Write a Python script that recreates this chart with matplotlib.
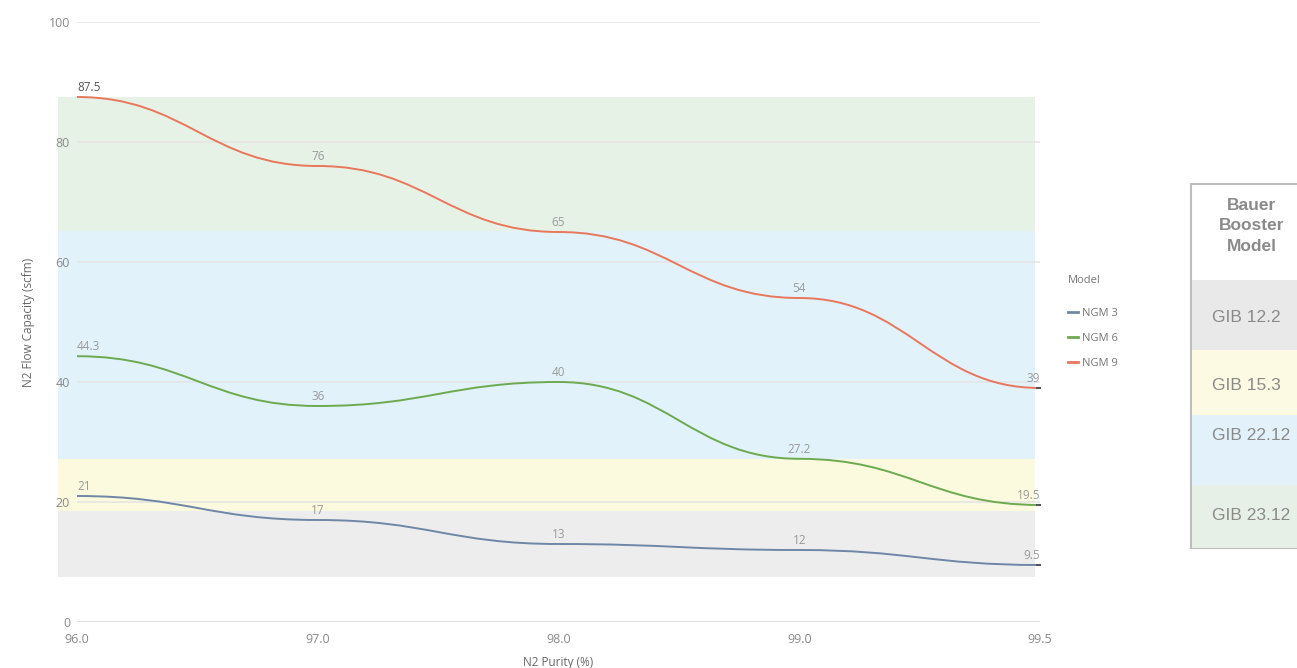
import numpy as np
import matplotlib
matplotlib.use("Agg")
import matplotlib.pyplot as plt
from matplotlib.path import Path
from matplotlib.patches import PathPatch, Rectangle
from matplotlib.lines import Line2D

plt.rcParams['font.family'] = ['Open Sans', 'DejaVu Sans']

# purity levels (categorical x axis)
purity = ['96.0', '97.0', '98.0', '99.0', '99.5']

# flow capacity per generator model (scfm)
ngm3 = [21, 17, 13, 12, 9.5]
ngm6 = [44.3, 36, 40, 27.2, 19.5]
ngm9 = [87.5, 76, 65, 54, 39]
series_names = ['NGM 3', 'NGM 6', 'NGM 9']
series_colors = ['#6f87a6', '#6daa4f', '#e8775c']

# booster model ranges shown as background bands
booster_models = ['GIB 12.2', 'GIB 15.3', 'GIB 22.12', 'GIB 23.12']
band_low = [7.5, 18.5, 27.2, 65.2]
band_high = [18.5, 27.2, 65.2, 87.5]
band_colors = ['#ededed', '#fbf9de', '#e1f2fb', '#e7f2e7']
table_colors = ['#e9e9e9', '#fcfae2', '#e2f1fa', '#e7f0e6']

yticks = [0, 20, 40, 60, 80, 100]

W, H = 1297, 668
fig = plt.figure(figsize=(W / 100, H / 100), dpi=100)
ax = fig.add_axes([77 / W, (H - 622) / H, (1040 - 77) / W, 600 / H])

x = np.arange(len(purity))
ax.set_xlim(0, len(purity) - 1)
ax.set_ylim(0, 100)

# background bands, slightly wider than the plot area on the left
for lo, hi, c in zip(band_low, band_high, band_colors):
    ax.add_patch(Rectangle((-0.079, lo), 3.98 + 0.079, hi - lo, facecolor=c,
                           edgecolor='none', zorder=0, clip_on=False))

for v in yticks:
    ax.axhline(v, color='#d9d9d9' if v == 0 else '#e4e4e4', lw=1.1, zorder=0.5)


def smooth_path(xs, ys):
    # cubic segments with flat tangents at each point
    verts = [(xs[0], ys[0])]
    codes = [Path.MOVETO]
    for i in range(len(xs) - 1):
        dx = xs[i + 1] - xs[i]
        verts += [(xs[i] + dx * 0.45, ys[i]), (xs[i + 1] - dx * 0.45, ys[i + 1]),
                  (xs[i + 1], ys[i + 1])]
        codes += [Path.CURVE4] * 3
    return Path(verts, codes)


for vals, name, col in zip([ngm3, ngm6, ngm9], series_names, series_colors):
    ax.add_patch(PathPatch(smooth_path(x, vals), facecolor='none', edgecolor=col,
                           lw=1.4, zorder=3))
    ax.plot([x[-1] - 0.015, x[-1] + 0.005], [vals[-1], vals[-1]], color='#555555',
            lw=1.5, zorder=4, solid_capstyle='butt', clip_on=False)
    for i, v in enumerate(vals):
        ha = 'left' if i == 0 else ('right' if i == len(vals) - 1 else 'center')
        tc = '#555555' if v == 87.5 else '#9a9a9a'
        ax.annotate(f'{v:g}', (x[i], v), xytext=(0, 2), textcoords='offset points',
                    ha=ha, va='bottom', fontsize=8.5, color=tc, zorder=5)

ax.set_xticks(x)
ax.set_xticklabels(purity)
ax.set_yticks(yticks)
ax.tick_params(length=0, labelsize=9, labelcolor='#8a8a8a')
ax.tick_params(axis='x', pad=8)
ax.tick_params(axis='y', pad=5)
for s in ax.spines.values():
    s.set_visible(False)
ax.set_xlabel('N2 Purity (%)', fontsize=8.5, color='#666666', labelpad=7)
ax.set_ylabel('N2 Flow Capacity (scfm)', fontsize=8.5, color='#666666', labelpad=10)

handles = [Line2D([], [], color=c, lw=2) for c in series_colors]
leg = fig.legend(handles, series_names, title='Model', loc='upper left',
                 bbox_to_anchor=(1058 / W, 1 - 265 / H), frameon=False,
                 fontsize=8, title_fontsize=8, handlelength=0.9,
                 handletextpad=0.4, labelspacing=1.25, alignment='left')
for t in leg.get_texts():
    t.set_color('#777777')
leg.get_title().set_color('#777777')
leg._legend_box.sep = 16

# booster model table on the right, in pixel coordinates
tab = fig.add_axes([0, 0, 1, 1])
tab.set_xlim(0, W)
tab.set_ylim(H, 0)
tab.axis('off')
row_edges = [280, 350, 415, 485, 548]
text_y = [317, 385, 435, 516]
tab.add_patch(Rectangle((1191, 184), 200, 548 - 184, facecolor='white',
                        edgecolor='#bdbdbd', lw=1.5, zorder=1))
for i, (name, c) in enumerate(zip(booster_models, table_colors)):
    tab.add_patch(Rectangle((1192, row_edges[i]), 200, row_edges[i + 1] - row_edges[i],
                            facecolor=c, edgecolor='none', zorder=2))
    tab.text(1212, text_y[i], name, ha='left', va='center', fontsize=12.5,
             color='#8a8a8a', family=['Liberation Sans', 'DejaVu Sans'], zorder=3)
tab.text(1252, 226, 'Bauer\nBooster\nModel', ha='center', va='center', fontsize=12.5,
         fontweight='bold', color='#8a8a8a', linespacing=1.45,
         family=['Liberation Sans', 'DejaVu Sans'], zorder=3)

fig.savefig('out.png', dpi=100, facecolor='white')
